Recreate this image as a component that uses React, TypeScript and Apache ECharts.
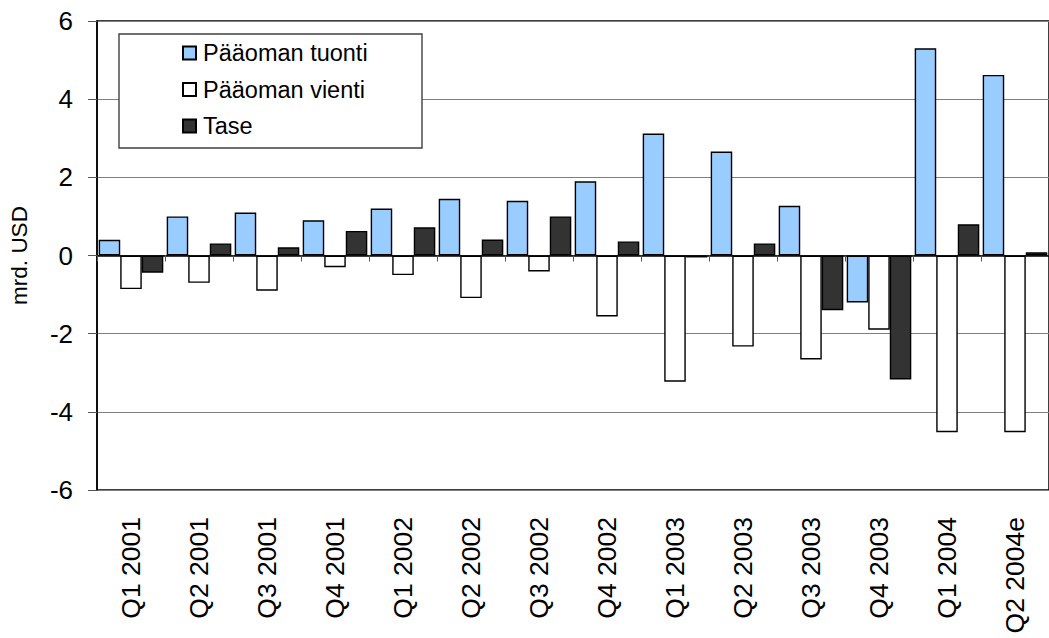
import React, { useEffect, useRef } from "react";
import * as echarts from "echarts";

const categories = [
  "Q1 2001", "Q2 2001", "Q3 2001", "Q4 2001",
  "Q1 2002", "Q2 2002", "Q3 2002", "Q4 2002",
  "Q1 2003", "Q2 2003", "Q3 2003", "Q4 2003",
  "Q1 2004", "Q2 2004e",
];
const tuonti = [0.4, 1.0, 1.1, 0.9, 1.2, 1.45, 1.4, 1.9, 3.12, 2.66, 1.27, -1.2, 5.3, 4.62];
const vienti = [-0.86, -0.7, -0.9, -0.3, -0.5, -1.09, -0.41, -1.56, -3.23, -2.33, -2.66, -1.9, -4.52, -4.52];
const tase = [-0.44, 0.31, 0.21, 0.63, 0.72, 0.41, 1.0, 0.36, -0.05, 0.31, -1.4, -3.17, 0.8, 0.08];
const seriesNames = ["Pääoman tuonti", "Pääoman vienti", "Tase"];
const FONT = "'Liberation Sans', Arial, sans-serif";

export default function App() {
  const ref = useRef<HTMLDivElement>(null);
  useEffect(() => {
    if (!ref.current) return;
    const chart = echarts.init(ref.current, null, { renderer: "svg" });
    const barStyle = (color: string) => ({ color, borderColor: "#000", borderWidth: 1.4 });
    chart.setOption({
      animation: false,
      backgroundColor: "#fff",
      textStyle: { fontFamily: FONT },
      grid: {
        left: 97, top: 21, width: 961, height: 469,
        show: true, borderColor: "#000", borderWidth: 1.5, backgroundColor: "transparent",
      },
      legend: {
        orient: "vertical",
        left: 182, top: 41,
        padding: 0,
        itemWidth: 13, itemHeight: 13,
        itemGap: 12.5,
        icon: "rect",
        z: 10,
        textStyle: { fontFamily: FONT, fontSize: 23.5, color: "#000", lineHeight: 24, padding: [0, 0, 0, 2] },
        data: seriesNames,
      },
      graphic: [
        {
          type: "rect", z: 5, silent: true,
          shape: { x: 119, y: 34, width: 303, height: 114 },
          style: { fill: "#fff", stroke: "#404040", lineWidth: 1.4 },
        },
      ],
      xAxis: [
        {
          type: "category", data: categories, position: "bottom",
          axisLine: { onZero: true, lineStyle: { color: "#000", width: 1.5 } },
          axisTick: { show: true, interval: 0, length: 6, alignWithLabel: false, lineStyle: { color: "#555" } },
          axisLabel: { show: false },
          splitLine: { show: false },
        },
        {
          type: "category", data: categories, position: "bottom",
          axisLine: { show: false, onZero: false },
          axisTick: { show: false },
          axisLabel: {
            show: true, interval: 0, rotate: 90, margin: 27,
            fontSize: 26.5, color: "#000", fontFamily: FONT,
          },
          splitLine: { show: false },
        },
      ],
      yAxis: {
        type: "value", min: -6, max: 6, interval: 2,
        name: "mrd. USD", nameLocation: "middle", nameGap: 66,
        nameTextStyle: { fontSize: 22.5, color: "#000", fontFamily: FONT },
        axisLine: { show: true, lineStyle: { color: "#000", width: 1.5 } },
        axisTick: { show: true, length: 9, lineStyle: { color: "#555" } },
        axisLabel: { fontSize: 26, color: "#000", margin: 24, fontFamily: FONT },
        splitLine: { show: true, lineStyle: { color: "#7f7f7f", width: 1.2 } },
      },
      series: [
        { name: seriesNames[0], type: "bar", xAxisIndex: 0, data: tuonti, barGap: "0%", barCategoryGap: "5%", itemStyle: barStyle("#99ccff") },
        { name: seriesNames[1], type: "bar", xAxisIndex: 0, data: vienti, barGap: "0%", barCategoryGap: "5%", itemStyle: barStyle("#ffffff") },
        { name: seriesNames[2], type: "bar", xAxisIndex: 0, data: tase, barGap: "0%", barCategoryGap: "5%", itemStyle: barStyle("#333333") },
      ],
    });
    return () => chart.dispose();
  }, []);
  return (
    <div
      ref={ref}
      style={{ position: "fixed", left: 0, top: 0, width: 1049, height: 638, background: "#fff" }}
    />
  );
}
